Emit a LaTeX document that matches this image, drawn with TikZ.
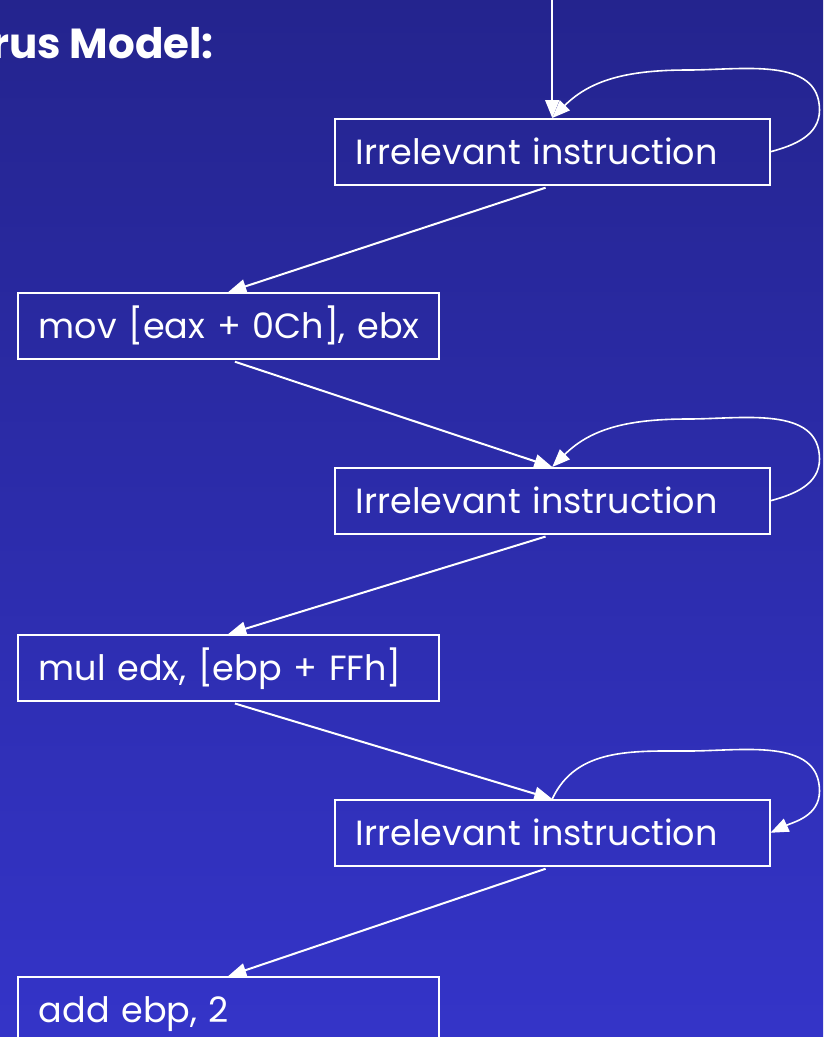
\documentclass[tikz,border=0pt]{standalone}
\usepackage{fontspec}
\setmainfont{Poppins}
\usetikzlibrary{arrows.meta,calc}
\definecolor{bgtop}{RGB}{36,36,142}
\definecolor{bgbot}{RGB}{52,52,200}
\tikzset{
  instr/.style={draw=white, line width=1.5pt, rectangle, inner xsep=21pt, inner ysep=0pt,
    minimum height=66pt, align=left, text=white,
    font=\fontsize{35}{40}\selectfont, text height=26pt, text depth=0pt, anchor=north west},
  wide/.style={text width=393pt},
  narrow/.style={text width=379pt},
  flow/.style={draw=white, line width=2pt, -{Triangle[length=18pt,width=14pt]}, shorten <=7pt},
  selfloop/.style={draw=white, line width=1.6pt, -{Triangle[length=18pt,width=14pt]}},
}
\begin{document}
\begin{tikzpicture}[x=1pt,y=1pt]
\useasboundingbox (0,0) rectangle (823,-1037);
\clip (0,0) rectangle (823,-1037);
\shade[top color=bgtop, bottom color=bgbot] (0,0) rectangle (823,-1037);

% heading, running off the left edge
\node[anchor=base east, text=white, inner sep=0pt, font=\bfseries\fontsize{42}{46}\selectfont] (title) at (214,-58) {Virus Model:};

% instruction boxes
\node[instr, wide] (b1) at (334,-118) {\mbox{Irrelevant instruction}};
\node[instr, narrow] (b2) at (17,-292) {\mbox{mov [eax + 0Ch], ebx}};
\node[instr, wide] (b3) at (334,-467) {\mbox{Irrelevant instruction}};
\node[instr, narrow] (b4) at (17,-634) {\mbox{mul edx, [ebp + FFh]}};
\node[instr, wide] (b5) at (334,-799) {\mbox{Irrelevant instruction}};
\node[instr, narrow] (b6) at (17,-976) {\mbox{add ebp, 2}};

% entry from above
\coordinate (entry) at ($(b1.north)+(0,130)$);
\draw[flow, shorten <=0pt] (entry) -- (b1.north);

% main flow
\draw[flow] (b1.south) -- (b2.north);
\draw[flow] (b2.south) -- (b3.north);
\draw[flow] (b3.south) -- (b4.north);
\draw[flow] (b4.south) -- (b5.north);
\draw[flow] (b5.south) -- (b6.north);

% self loops
\foreach \b in {b1,b3}{
  \draw[selfloop] (\b.east) to[out=15,in=-90] ($(\b.north east)+(49,8)$)
    to[out=90,in=0] ($(\b.north east)+(-82,48)$)
    to[out=180,in=45] (\b.north);
}
\draw[selfloop] (b5.north) to[out=65,in=180] ($(b5.north east)+(-82,48)$)
  to[out=0,in=90] ($(b5.north east)+(49,8)$)
  to[out=-90,in=25] (b5.east);
\end{tikzpicture}
\end{document}
